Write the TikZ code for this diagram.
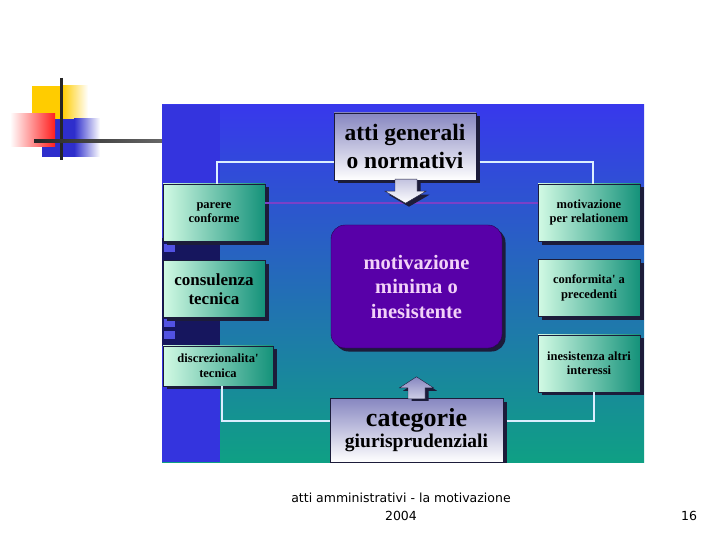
\documentclass[tikz,border=0pt]{standalone}
\usepackage{fontspec}
\setmainfont{Liberation Serif}
\newfontfamily\footfont{DejaVu Sans}
\usetikzlibrary{positioning,calc,shadows}

\definecolor{bgtop}{HTML}{3838EC}
\definecolor{bgmid}{HTML}{2A84CC}
\definecolor{bgbot}{HTML}{0FA084}
\definecolor{stripblue}{HTML}{3434DE}
\definecolor{stripnavy}{HTML}{16165E}
\definecolor{mintlight}{HTML}{D2FAE4}
\definecolor{mintdark}{HTML}{14927A}
\definecolor{lilac}{HTML}{8686C0}
\definecolor{violet}{HTML}{5800A8}
\definecolor{violetedge}{HTML}{2A0050}
\definecolor{pinktext}{HTML}{F2D2F8}
\definecolor{wirecol}{HTML}{DCEEFF}
\definecolor{seamcol}{HTML}{7A40C8}
\definecolor{shadowcol}{HTML}{1C1C3A}
\definecolor{decoyellow}{HTML}{FFCC00}
\definecolor{decored}{HTML}{FF1E1E}
\definecolor{decoblue}{HTML}{2E2ECC}

\begin{document}
\begin{tikzpicture}[x=1pt, y=-1pt,
        darkshadow/.style={drop shadow={shadow xshift=3.5pt, shadow yshift=-3.5pt, fill=shadowcol, opacity=1}},
        greenbox/.style={rectangle, draw=shadowcol, left color=mintlight, right color=mintdark, darkshadow,
            minimum width=102pt, minimum height=57pt, inner sep=1pt, align=center, font=\bfseries\fontsize{12.5}{14.5}\selectfont},
        headbox/.style={rectangle, draw=shadowcol, top color=lilac, bottom color=white, darkshadow,
            inner sep=1pt, align=center},
        centrebox/.style={rectangle, rounded corners=14pt, draw=violetedge, fill=violet, darkshadow, text=pinktext,
            minimum width=171pt, minimum height=123pt, align=center, font=\bfseries\fontsize{20.5}{24.5}\selectfont},
        wire/.style={draw=wirecol, line width=2pt},
        seam/.style={draw=seamcol, line width=1.2pt},
        foot/.style={align=center, inner sep=0pt, font=\footfont\fontsize{12.5}{18}\selectfont}]

    \useasboundingbox (0,0) rectangle (720,540);
    \fill[white] (0,0) rectangle (720,540);

    % slide ornament, top left
    \fill[decoyellow] (32,86) rectangle (62,120);
    \shade[left color=decoyellow, right color=white] (62,86) rectangle (88,120);
    \fill[decoblue] (42,119) rectangle (74,157);
    \shade[left color=decoblue, right color=white] (74,119) rectangle (100,157);
    \shade[left color=white, right color=decored] (10,114) rectangle (55,147);
    \draw[black!85, line width=3pt] (61,78) -- (61,160);
    \shade[left color=black!85, right color=black!60] (34,139.5) rectangle (162,142.5);

    % picture area
    \begin{scope}
        \clip (162,105) rectangle (644,462);
        \shade[top color=bgtop, middle color=bgmid, bottom color=bgbot] (162,105) rectangle (644,462);
        \fill[stripblue] (162,105) rectangle (220,462);
        \fill[stripnavy] (162,238) rectangle (220,346);
        \fill[stripblue!85] (164,244) rectangle (175,252);
        \fill[stripblue!85] (164,319) rectangle (175,327);
        \fill[stripblue!85] (164,331) rectangle (175,339);

        \node[headbox, minimum width=142pt, minimum height=67pt,
            font=\bfseries\fontsize{23.5}{28}\selectfont] (general) at (405,146.5) {atti generali\\o normativi};
        \node[centrebox] (minima) at (416.5,286.5) {motivazione\\minima o\\inesistente};
        \node[headbox, minimum width=173pt, minimum height=64pt] (categorie) at (416.5,430)
            {{\bfseries\fontsize{26}{28}\selectfont categorie}\\[1pt]{\bfseries\fontsize{19.5}{22}\selectfont giurisprudenziali}};

        \node[greenbox] (parere) at (214,212.5) {parere\\conforme};
        \node[greenbox, below=19pt of parere, font=\bfseries\fontsize{17}{19}\selectfont] (consulenza) {consulenza\\tecnica};
        \node[greenbox, below=28pt of consulenza.south west, anchor=north west, minimum width=110pt, minimum height=40pt] (discrez)
            {discrezionalita\textquotesingle\\tecnica};

        \node[greenbox] (relationem) at (589,212.5) {motivazione\\per relationem};
        \node[greenbox, below=18pt of relationem] (precedenti) {conformita\textquotesingle{} a\\precedenti};
        \node[greenbox, below=18pt of precedenti] (interessi) {inesistenza altri\\interessi};

        % connectors
        \draw[seam] ([yshift=9.5pt]parere.east) -- ([yshift=9.5pt]relationem.west);
        \draw[wire] ([yshift=-15.5pt]general.west) -| ([xshift=3pt]parere.north);
        \draw[wire] ([yshift=-15.5pt,xshift=3.5pt]general.east) -| ([xshift=4pt]relationem.north);
        \draw[wire] ([yshift=9pt]categorie.west) -| ([xshift=4pt]discrez.south);
        \draw[wire] ([yshift=9pt,xshift=3.5pt]categorie.east) -| ([xshift=5pt]interessi.south);

        % block arrows
        \begin{scope}[shift={(general.south)}]
            \fill[shadowcol] (-6.5,3) -- (-6.5,14.5) -- (-16.5,14.5) -- (4,26.5) -- (24.5,14.5) -- (15.5,14.5) -- (15.5,3) -- cycle;
            \shade[top color=lilac!50, bottom color=white, draw=shadowcol] (-10,-1) -- (-10,11) -- (-20,11) -- (0.5,23) -- (21,11) -- (12,11) -- (12,-1) -- cycle;
        \end{scope}
        \begin{scope}[shift={(categorie.north)}]
            \fill[shadowcol] (-5,3) -- (-5,-7) -- (-13.5,-7) -- (3.5,-18) -- (20.5,-7) -- (12,-7) -- (12,3) -- cycle;
            \shade[top color=lilac, bottom color=lilac!40, draw=shadowcol] (-8.5,1) -- (-8.5,-10) -- (-17,-10) -- (0,-21) -- (17,-10) -- (8.5,-10) -- (8.5,1) -- cycle;
        \end{scope}
    \end{scope}

    % footer
    \node[foot] (caption) at (401,507) {atti amministrativi - la motivazione\\2004};
    \node[foot] (pagenum) at (689,516) {16};
\end{tikzpicture}
\end{document}
